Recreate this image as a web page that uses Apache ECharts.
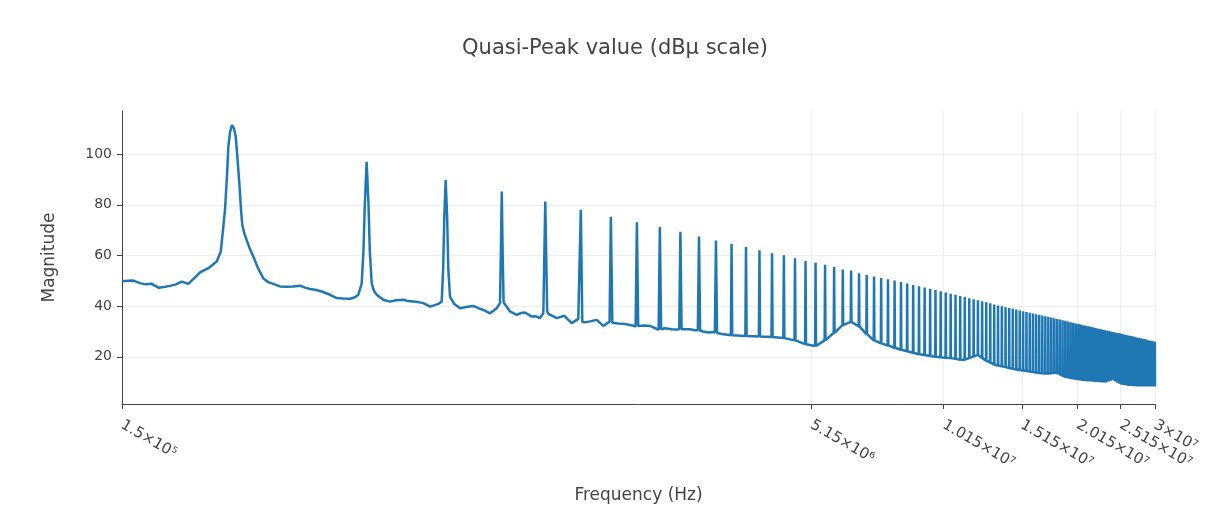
<!DOCTYPE html>
<html><head><meta charset="utf-8">
<script src="https://cdn.jsdelivr.net/npm/echarts@6/dist/echarts.min.js"></script>
<style>html,body{margin:0;padding:0;background:#fff}#chart{width:1230px;height:517px}</style>
</head><body><div id="chart"></div>
<script>
const chartTitle = 'Quasi-Peak value (dBμ scale)';
const xAxisTitle = 'Frequency (Hz)';
const yAxisTitle = 'Magnitude';
const xTickValues = [150000, 5150000, 10150000, 15150000, 20150000, 25150000, 30000000];
const xTickLabels = ['1.5×10⁵', '5.15×10⁶', '1.015×10⁷', '1.515×10⁷', '2.015×10⁷', '2.515×10⁷', '3×10⁷'];
const yTickValues = [20, 40, 60, 80, 100];

// Low-frequency part of the trace (150 kHz .. 3.26 MHz), read point by point
const lowFreqKHz = [150, 154.7, 159.0, 164.5, 169.6, 174.7, 180.7, 186.0, 191.9, 197.8,
  203.7, 210.8, 217.0, 223.8, 233.6, 243.8, 248.9, 251.8, 254.4, 257.1,
  258.8, 261.0, 263.5, 266.5, 268.8, 271.3, 273.8, 276.2, 278.0, 281.2,
  284.4, 289.2, 294.2, 301.3, 309.6, 317.2, 325.9, 337.3, 349.1, 360.6,
  373.8, 383.5, 393.5, 403.7, 414.2, 424.9, 435.9, 451.2, 466.0, 483.0,
  495.5, 504.0, 512.9, 517.6, 521.1, 526, 531.1, 534.6, 539.9, 546.3,
  553.9, 563.3, 573.0, 593.0, 611.5, 634.9, 650.4, 668.3, 684.6, 703.4,
  728.0, 743.1, 759.7, 773.1, 779.0, 783.4, 789, 795, 799.5, 806.7,
  823.4, 849.2, 875.8, 909.2, 932.8, 957.1, 990.5, 1025.2, 1042.5, 1047,
  1052, 1057, 1062, 1097.4, 1135.7, 1161.0, 1185.1, 1226.5, 1253.9, 1279.8,
  1302, 1315, 1328, 1336, 1394.5, 1449.9, 1505.9, 1557.8, 1568, 1578,
  1590, 1606.5, 1654.2, 1712.0, 1770.9, 1829, 1841, 1855, 1909.7, 1979.4,
  2065.4, 2090, 2104, 2118, 2193.3, 2250.2, 2352, 2367, 2382, 2430.2,
  2515.1, 2584.4, 2614, 2630, 2646, 2762.4, 2834.2, 2876, 2893, 2910,
  2952.8, 3034.2, 3092.3, 3138, 3156, 3174, 3255];
const lowMag = [49.8, 50.0, 50.1, 49.1, 48.6, 48.8, 47.3, 47.6, 48.0, 48.6,
  49.7, 48.8, 51.0, 53.3, 55.0, 57.6, 61.5, 70, 78, 92,
  103, 108.5, 111.5, 110, 106.9, 98, 88.5, 78, 72, 68.5,
  66, 62.5, 59.6, 55, 51, 49.5, 48.8, 47.8, 47.7, 47.8,
  48.1, 47.3, 46.8, 46.5, 46.0, 45.3, 44.5, 43.2, 43.0, 42.9,
  43.5, 44.5, 49, 62, 80, 97, 80, 62, 49, 46,
  44.5, 43.5, 42.5, 41.8, 42.3, 42.5, 42.0, 41.8, 41.6, 41.2,
  39.8, 40.3, 40.9, 41.8, 55, 75, 89.8, 75, 55, 43.8,
  41, 39.2, 39.7, 40.1, 39.2, 38.5, 37.2, 39.2, 41.2, 60,
  85.2, 60, 41.5, 37.9, 36.6, 37.3, 37.5, 35.9, 36.0, 35.3,
  37.2, 81.3, 37.9, 37.0, 35.3, 36.2, 33.3, 35.0, 35.3, 78,
  33.9, 33.6, 34.0, 34.6, 32.2, 33.9, 75.3, 33.5, 33.2, 33.0,
  32.3, 32.0, 73.1, 32.2, 32.4, 32.2, 30.7, 71.2, 30.9, 31.3,
  30.9, 30.8, 30.9, 69.4, 30.9, 30.9, 30.5, 30.5, 67.5, 30.3,
  30.0, 29.6, 29.8, 29.6, 65.9, 29.4, 29.0];

// Harmonics 13..114 (kHz), their peak value and the noise floor around them
const harmonicKHz = [3419, 3682, 3945, 4208, 4471, 4734, 4997, 5260, 5523, 5786,
  6049, 6312, 6575, 6838, 7101, 7364, 7627, 7890, 8153, 8416,
  8679, 8942, 9205, 9468, 9731, 9994, 10257, 10520, 10783, 11046,
  11309, 11572, 11835, 12098, 12361, 12624, 12887, 13150, 13413, 13676,
  13939, 14202, 14465, 14728, 14991, 15254, 15517, 15780, 16043, 16306,
  16569, 16832, 17095, 17358, 17621, 17884, 18147, 18410, 18673, 18936,
  19199, 19462, 19725, 19988, 20251, 20514, 20777, 21040, 21303, 21566,
  21829, 22092, 22355, 22618, 22881, 23144, 23407, 23670, 23933, 24196,
  24459, 24722, 24985, 25248, 25511, 25774, 26037, 26300, 26563, 26826,
  27089, 27352, 27615, 27878, 28141, 28404, 28667, 28930, 29193, 29456,
  29719, 29982];
const harmonicPeak = [64.6, 63.3, 62.1, 60.9, 60.1, 58.9, 57.8, 57.1, 56.3, 55.4,
  54.5, 54.1, 53.0, 52.3, 51.7, 51.1, 50.6, 50.1, 49.5, 48.9,
  48.3, 47.9, 47.4, 46.9, 46.4, 45.9, 45.4, 44.9, 44.5, 44.0,
  43.6, 43.1, 42.7, 42.3, 41.9, 41.5, 41.1, 40.7, 40.3, 40.0,
  39.6, 39.3, 39.0, 38.7, 38.3, 38.0, 37.7, 37.4, 37.1, 36.8,
  36.6, 36.3, 36.0, 35.7, 35.5, 35.2, 34.9, 34.7, 34.4, 34.2,
  33.9, 33.7, 33.5, 33.2, 33.0, 32.8, 32.5, 32.3, 32.1, 31.9,
  31.7, 31.4, 31.2, 31.0, 30.8, 30.6, 30.4, 30.2, 30.0, 29.8,
  29.6, 29.4, 29.3, 29.1, 28.9, 28.7, 28.5, 28.3, 28.2, 28.0,
  27.8, 27.6, 27.5, 27.3, 27.1, 27.0, 26.8, 26.6, 26.5, 26.3,
  26.2, 26.0];
const harmonicFloor = [28.5, 28.2, 28.0, 27.8, 27.4, 26.5, 25.0, 24.3, 26.5, 29.5,
  32.5, 33.8, 32.0, 29.0, 26.5, 25.3, 24.5, 23.6, 22.8, 22.2,
  21.6, 21.0, 20.7, 20.3, 20.0, 19.8, 19.6, 19.5, 19.2, 18.9,
  18.9, 19.5, 20.2, 20.8, 19.5, 18.5, 17.7, 17.0, 16.6, 16.3,
  16.0, 15.6, 15.3, 15.0, 14.8, 14.6, 14.4, 14.2, 14.0, 13.8,
  13.6, 13.5, 13.4, 13.4, 13.5, 13.7, 13.8, 13.2, 12.6, 12.1,
  11.9, 11.7, 11.6, 11.4, 11.3, 11.1, 11.0, 10.9, 10.8, 10.8,
  10.7, 10.6, 10.6, 10.5, 10.4, 10.4, 10.3, 10.3, 10.6, 10.9,
  10.3, 9.8, 9.4, 9.0, 8.9, 8.8, 8.6, 8.5, 8.5, 8.4,
  8.4, 8.3, 8.3, 8.3, 8.3, 8.3, 8.3, 8.3, 8.3, 8.3,
  8.3, 8.3];

// ---- build the series (style constants kept out of the data) ----
const PEAK_HALF_WIDTH_KHZ = 12;
const traceData = [];
for (let i = 0; i < lowFreqKHz.length; i++) traceData.push([lowFreqKHz[i] * 1000, lowMag[i]]);
for (let i = 0; i < harmonicKHz.length; i++) {
  const f = harmonicKHz[i];
  traceData.push([(f - PEAK_HALF_WIDTH_KHZ) * 1000, harmonicFloor[i]]);
  traceData.push([f * 1000, harmonicPeak[i]]);
  traceData.push([(f + PEAK_HALF_WIDTH_KHZ) * 1000, harmonicFloor[i]]);
}

const FONT = '"DejaVu Sans", Verdana, sans-serif';
const TXT = '#444';
function xLabel(v) {
  let best = 0;
  for (let i = 1; i < xTickValues.length; i++) {
    if (Math.abs(Math.log(xTickValues[i]) - Math.log(v)) < Math.abs(Math.log(xTickValues[best]) - Math.log(v))) best = i;
  }
  return xTickLabels[best];
}

const chart = echarts.init(document.getElementById('chart'), null, {renderer: 'canvas'});
chart.setOption({
  animation: false,
  backgroundColor: '#fff',
  title: {
    text: chartTitle, left: 'center', top: 38, padding: 0,
    textStyle: {fontFamily: FONT, fontSize: 21, fontWeight: 'normal', color: TXT}
  },
  grid: {left: 122, right: 75, top: 111, bottom: 113, containLabel: false},
  xAxis: {
    type: 'log', logBase: 10, min: 150000, max: 30000000,
    name: xAxisTitle, nameLocation: 'middle', nameGap: 83,
    nameTextStyle: {fontFamily: FONT, fontSize: 17, color: TXT},
    axisLine: {show: true, onZero: false, lineStyle: {color: TXT, width: 1}},
    axisTick: {show: true, length: 5, customValues: xTickValues, lineStyle: {color: TXT}},
    axisLabel: {customValues: xTickValues, rotate: -30, formatter: xLabel, fontFamily: FONT, fontSize: 15, color: TXT, margin: 20},
    splitLine: {show: true, lineStyle: {color: '#eee', width: 1}},
    minorTick: {show: false}, minorSplitLine: {show: false}
  },
  yAxis: {
    type: 'value', min: 1.4, max: 117,
    name: yAxisTitle, nameLocation: 'middle', nameGap: 64,
    nameTextStyle: {fontFamily: FONT, fontSize: 17, color: TXT},
    axisLine: {show: true, lineStyle: {color: TXT, width: 1}},
    axisTick: {show: true, length: 5, customValues: yTickValues, lineStyle: {color: TXT}},
    axisLabel: {customValues: yTickValues, fontFamily: FONT, fontSize: 14, color: TXT, margin: 10},
    splitLine: {show: true, lineStyle: {color: '#eee', width: 1}}
  },
  series: [{
    type: 'line', data: traceData, showSymbol: false, symbol: 'none',
    sampling: null, smooth: false,
    lineStyle: {color: '#1f77b4', width: 2.5},
    itemStyle: {color: '#1f77b4'}
  }]
});
</script>
</body></html>
